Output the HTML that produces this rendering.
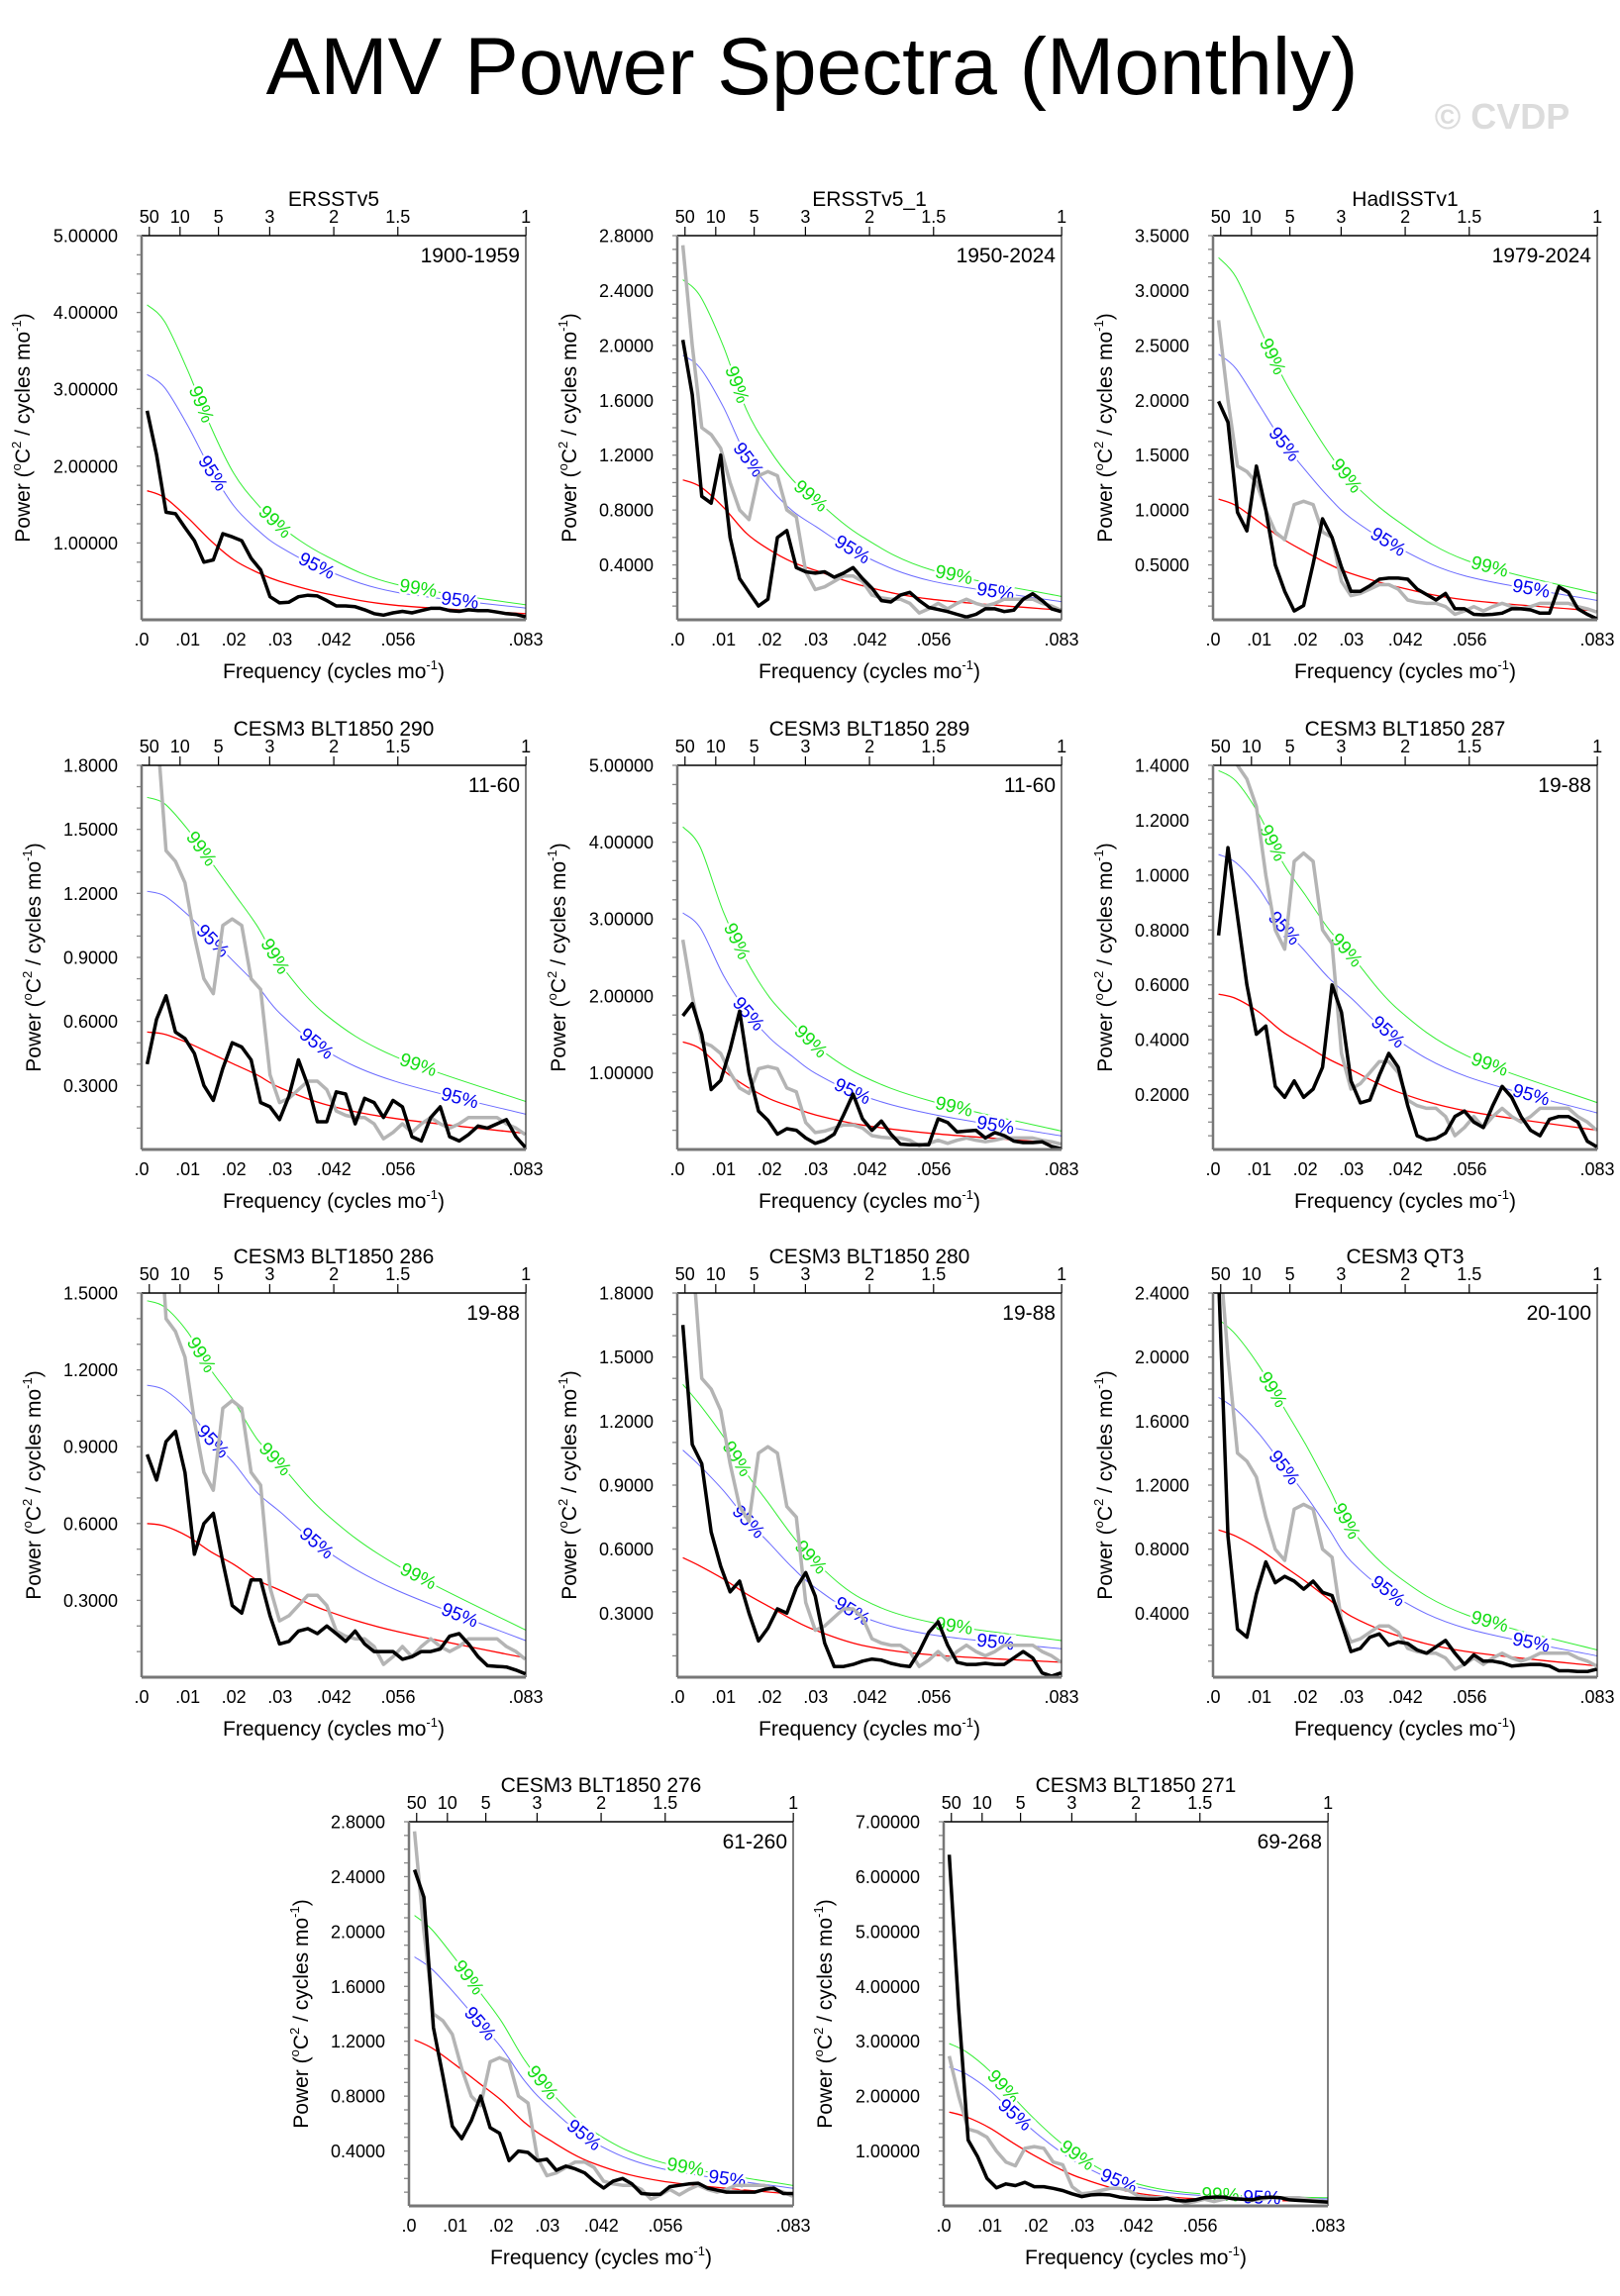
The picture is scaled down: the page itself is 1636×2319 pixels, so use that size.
<!DOCTYPE html>
<html><head><meta charset="utf-8">
<style>
html,body{margin:0;padding:0;background:#fff;}
svg{display:block;font-family:"Liberation Sans",Arial,sans-serif;}
</style></head>
<body>
<svg id="fig" width="1636" height="2319" viewBox="0 0 1636 2319" xmlns="http://www.w3.org/2000/svg">
<text x="820" y="95" font-size="82" text-anchor="middle" fill="#000">AMV Power Spectra (Monthly)</text>
<text x="1517" y="130" font-size="36" font-weight="bold" text-anchor="middle" fill="#dcdcdc">© CVDP</text>
</svg>
<script>
// ---------- data ----------
const FREQ_START = 0.0012;
const FREQ_STEP = 0.00205;
const SMOOTH_F = [0.0012,0.005,0.01,0.015,0.02,0.025,0.03,0.04,0.055,0.0833];
const X_TICK_VALUES = [0,0.01,0.02,0.03,0.0417,0.0556,0.0833];
const X_TICK_LABELS = [".0",".01",".02",".03",".042",".056",".083"];
const PERIOD_LABELS = ["50","10","5","3","2","1.5","1"];
const PERIOD_YEARS = [50,10,5,3,2,1.5,1];

const grayObs = [2.73,2.0,1.4,1.35,1.25,1.0,0.8,0.73,1.05,1.08,1.05,0.8,0.75,0.35,0.22,0.24,0.28,0.32,0.32,0.28,0.18,0.16,0.15,0.15,0.12,0.05,0.08,0.12,0.08,0.12,0.15,0.12,0.1,0.12,0.15,0.15,0.15,0.15,0.12,0.1,0.07];

const black_ersstv5 = [2.72,2.15,1.40,1.38,1.2,1.03,0.75,0.78,1.12,1.08,1.03,0.8,0.65,0.3,0.22,0.23,0.3,0.32,0.31,0.25,0.18,0.18,0.17,0.13,0.08,0.06,0.09,0.11,0.09,0.12,0.15,0.15,0.12,0.11,0.13,0.12,0.12,0.10,0.08,0.07,0.04];
const red_ersstv5 = [1.68,1.59,1.33,1.03,0.78,0.62,0.5,0.34,0.19,0.08];
const black_ersstv5_1 = [2.04,1.64,0.9,0.85,1.2,0.6,0.3,0.2,0.1,0.15,0.6,0.65,0.38,0.35,0.34,0.35,0.31,0.34,0.38,0.3,0.23,0.14,0.13,0.18,0.2,0.14,0.09,0.075,0.06,0.04,0.02,0.04,0.08,0.08,0.06,0.07,0.15,0.19,0.14,0.08,0.06];
const red_ersstv5_1 = [1.02,0.97,0.82,0.63,0.51,0.42,0.36,0.25,0.15,0.07];
const black_hadisst = [1.99,1.8,0.98,0.81,1.4,1.0,0.5,0.26,0.08,0.13,0.51,0.92,0.75,0.48,0.26,0.26,0.31,0.37,0.38,0.38,0.37,0.28,0.23,0.18,0.24,0.1,0.1,0.05,0.045,0.05,0.06,0.1,0.1,0.09,0.06,0.06,0.3,0.25,0.1,0.05,0.01];
const red_hadisst = [1.10,1.04,0.89,0.74,0.62,0.51,0.42,0.30,0.18,0.08];
const black_290 = [0.4,0.61,0.72,0.55,0.52,0.45,0.3,0.23,0.38,0.5,0.48,0.42,0.22,0.2,0.14,0.25,0.42,0.3,0.13,0.13,0.27,0.26,0.12,0.24,0.22,0.15,0.23,0.2,0.06,0.04,0.15,0.2,0.06,0.04,0.07,0.11,0.1,0.12,0.14,0.06,0.01];
const red_290 = [0.55,0.54,0.50,0.45,0.40,0.35,0.29,0.21,0.145,0.075];
const black_289 = [1.74,1.9,1.5,0.78,0.9,1.3,1.8,1.0,0.5,0.38,0.2,0.27,0.25,0.15,0.08,0.12,0.2,0.45,0.72,0.4,0.25,0.37,0.2,0.07,0.06,0.06,0.06,0.4,0.35,0.23,0.24,0.25,0.15,0.22,0.18,0.11,0.09,0.09,0.1,0.04,0.01];
const red_289 = [1.40,1.31,1.03,0.82,0.66,0.55,0.45,0.32,0.21,0.08];
const black_287 = [0.78,1.1,0.85,0.6,0.42,0.45,0.23,0.19,0.25,0.19,0.22,0.3,0.6,0.5,0.25,0.17,0.18,0.27,0.35,0.3,0.16,0.05,0.035,0.04,0.06,0.12,0.14,0.1,0.08,0.16,0.23,0.19,0.12,0.07,0.05,0.11,0.12,0.12,0.1,0.03,0.01];
const red_287 = [0.566,0.55,0.50,0.43,0.38,0.33,0.29,0.21,0.14,0.07];
const black_286 = [0.87,0.77,0.92,0.96,0.8,0.48,0.6,0.64,0.45,0.28,0.25,0.38,0.38,0.24,0.13,0.14,0.18,0.19,0.17,0.2,0.17,0.14,0.18,0.13,0.1,0.1,0.1,0.07,0.08,0.1,0.1,0.11,0.16,0.17,0.13,0.08,0.045,0.042,0.04,0.028,0.013];
const red_286 = [0.60,0.59,0.55,0.49,0.44,0.38,0.34,0.26,0.18,0.075];
const black_280 = [1.65,1.09,1.0,0.68,0.52,0.4,0.45,0.3,0.17,0.23,0.32,0.3,0.42,0.49,0.38,0.16,0.05,0.05,0.06,0.075,0.085,0.08,0.065,0.055,0.05,0.12,0.21,0.26,0.15,0.07,0.06,0.06,0.065,0.06,0.06,0.09,0.12,0.09,0.02,0.005,0.02];
const red_280 = [0.56,0.52,0.46,0.39,0.33,0.27,0.22,0.15,0.105,0.07];
const black_qt3 = [2.5,0.88,0.3,0.25,0.52,0.72,0.59,0.63,0.6,0.55,0.6,0.53,0.51,0.34,0.16,0.18,0.25,0.27,0.2,0.22,0.21,0.17,0.15,0.19,0.23,0.15,0.08,0.14,0.1,0.1,0.09,0.07,0.075,0.08,0.08,0.07,0.04,0.04,0.035,0.035,0.05];
const red_qt3 = [0.92,0.88,0.80,0.70,0.60,0.49,0.38,0.26,0.16,0.07];
const black_276 = [2.45,2.25,1.3,0.95,0.58,0.49,0.62,0.8,0.57,0.53,0.33,0.4,0.39,0.33,0.34,0.26,0.29,0.27,0.24,0.18,0.13,0.18,0.2,0.16,0.09,0.085,0.085,0.14,0.15,0.16,0.165,0.13,0.115,0.1,0.1,0.1,0.1,0.12,0.13,0.09,0.09];
const red_276 = [1.21,1.15,1.03,0.9,0.77,0.61,0.49,0.31,0.18,0.085];
const black_271 = [6.4,3.6,1.2,0.9,0.5,0.33,0.4,0.37,0.43,0.35,0.35,0.32,0.28,0.22,0.17,0.2,0.21,0.2,0.16,0.14,0.13,0.12,0.12,0.14,0.1,0.09,0.11,0.15,0.16,0.16,0.13,0.12,0.11,0.15,0.16,0.15,0.11,0.1,0.09,0.08,0.07];
const red_271 = [1.71,1.62,1.42,1.15,0.9,0.68,0.5,0.26,0.13,0.085];

const ticks5 = ["1.00000","2.00000","3.00000","4.00000","5.00000"];
const ticks28 = ["0.4000","0.8000","1.2000","1.6000","2.0000","2.4000","2.8000"];
const ticks35 = ["0.5000","1.0000","1.5000","2.0000","2.5000","3.0000","3.5000"];
const ticks18 = ["0.3000","0.6000","0.9000","1.2000","1.5000","1.8000"];
const ticks14 = ["0.2000","0.4000","0.6000","0.8000","1.0000","1.2000","1.4000"];
const ticks15 = ["0.3000","0.6000","0.9000","1.2000","1.5000"];
const ticks24 = ["0.4000","0.8000","1.2000","1.6000","2.0000","2.4000"];
const ticks7 = ["1.00000","2.00000","3.00000","4.00000","5.00000","6.00000","7.00000"];

const panels = [
 {id:"ersstv5", title:"ERSSTv5", years:"1900-1959", ymax:5, ticks:ticks5, black:black_ersstv5, red:red_ersstv5, f95:1.9, f99:2.44, gray:false},
 {id:"ersstv5-1", title:"ERSSTv5_1", years:"1950-2024", ymax:2.8, ticks:ticks28, black:black_ersstv5_1, red:red_ersstv5_1, f95:1.89, f99:2.43, gray:true},
 {id:"hadisstv1", title:"HadISSTv1", years:"1979-2024", ymax:3.5, ticks:ticks35, black:black_hadisst, red:red_hadisst, f95:2.2, f99:3.0, gray:true},
 {id:"blt1850-290", title:"CESM3 BLT1850 290", years:"11-60", ymax:1.8, ticks:ticks18, black:black_290, red:red_290, f95:2.2, f99:3.0, gray:true},
 {id:"blt1850-289", title:"CESM3 BLT1850 289", years:"11-60", ymax:5, ticks:ticks5, black:black_289, red:red_289, f95:2.2, f99:3.0, gray:true},
 {id:"blt1850-287", title:"CESM3 BLT1850 287", years:"19-88", ymax:1.4, ticks:ticks14, black:black_287, red:red_287, f95:1.9, f99:2.44, gray:true},
 {id:"blt1850-286", title:"CESM3 BLT1850 286", years:"19-88", ymax:1.5, ticks:ticks15, black:black_286, red:red_286, f95:1.9, f99:2.45, gray:true},
 {id:"blt1850-280", title:"CESM3 BLT1850 280", years:"19-88", ymax:1.8, ticks:ticks18, black:black_280, red:red_280, f95:1.9, f99:2.45, gray:true},
 {id:"qt3", title:"CESM3 QT3", years:"20-100", ymax:2.4, ticks:ticks24, black:black_qt3, red:red_qt3, f95:1.9, f99:2.43, gray:true},
 {id:"blt1850-276", title:"CESM3 BLT1850 276", years:"61-260", ymax:2.8, ticks:ticks28, black:black_276, red:red_276, f95:1.5, f99:1.75, gray:true},
 {id:"blt1850-271", title:"CESM3 BLT1850 271", years:"69-268", ymax:7, ticks:ticks7, black:black_271, red:red_271, f95:1.48, f99:1.73, gray:true}
];
// layout (pixel positions)
const LAYOUT = [[143,238],[684,238],[1225,238],[143,773],[684,773],[1225,773],[143,1306],[684,1306],[1225,1306],[413,1840],[953,1840]];
const W = 388, H = 388, FMAX = 0.0833;

// ---------- drawing ----------
const NS = "http://www.w3.org/2000/svg";
const svg = document.getElementById("fig");
function mk(tag, attrs, parent){
  const e = document.createElementNS(NS, tag);
  for (const k in attrs) e.setAttribute(k, attrs[k]);
  (parent||svg).appendChild(e);
  return e;
}
function smoothPath(pts){
  let d = "M" + pts[0][0].toFixed(1) + "," + pts[0][1].toFixed(1);
  for (let i=0;i<pts.length-1;i++){
    const p0=pts[Math.max(0,i-1)], p1=pts[i], p2=pts[i+1], p3=pts[Math.min(pts.length-1,i+2)];
    const c1=[p1[0]+(p2[0]-p0[0])/6, p1[1]+(p2[1]-p0[1])/6];
    const c2=[p2[0]-(p3[0]-p1[0])/6, p2[1]-(p3[1]-p1[1])/6];
    d += " C"+c1[0].toFixed(1)+","+c1[1].toFixed(1)+" "+c2[0].toFixed(1)+","+c2[1].toFixed(1)+" "+p2[0].toFixed(1)+","+p2[1].toFixed(1);
  }
  return d;
}
function interp(fs, vs, f){
  for (let i=0;i<fs.length-1;i++){
    if (f<=fs[i+1]){ const t=(f-fs[i])/(fs[i+1]-fs[i]); return vs[i]+t*(vs[i+1]-vs[i]); }
  }
  return vs[vs.length-1];
}
function sup(parent, txt){
  const t = mk("tspan", {"font-size":"13", dy:"-9"}, parent); t.textContent = txt;
  const r = mk("tspan", {"font-size":"22", dy:"9"}, parent); r.textContent = "\u200B";
}

panels.forEach((p, idx) => {
  const L = LAYOUT[idx][0], T = LAYOUT[idx][1];
  const xs = f => L + f/FMAX*W;
  const ys = v => T + H - v/p.ymax*H;
  const g = mk("g", {});
  
  
  const clipId = "clip" + idx;
  const cp = mk("clipPath", {id:clipId}, g);
  mk("rect", {x:L, y:T, width:W, height:H}, cp);

  const tt = mk("text", {x:L+W/2, y:T-30, "font-size":"21", "text-anchor":"middle"}, g);
  
  
  tt.textContent = p.title;
  const yr = mk("text", {x:L+W-6, y:T+27, "font-size":"21", "text-anchor":"end"}, g);
  
  
  yr.textContent = p.years;

  PERIOD_YEARS.forEach((P, i) => {
    const x = xs(1/(12*P));
    const tk = mk("line", {x1:x, x2:x, y1:T-9, y2:T, stroke:"#000", "stroke-width":"1.2"}, g);
    
    
    const tl = mk("text", {x:x, y:T-13, "font-size":"18", "text-anchor":"middle"}, g);
    
    
    tl.textContent = PERIOD_LABELS[i];
  });

  const tv = p.ticks.map(Number);
  const step = tv[1]-tv[0];
  const div = (Math.round(step*10)%3===0) ? 3 : 4;
  for (let v=step/div; v<=p.ymax+1e-9; v+=step/div){
    const y = ys(v);
    const m = mk("line", {x1:L-5, x2:L, y1:y, y2:y, stroke:"#888", "stroke-width":"1.3"}, g);
    
    
  }
  p.ticks.forEach((s, i) => {
    const y = ys(tv[i]);
    const t = mk("text", {x:L-24, y:y+6.5, "font-size":"18", "text-anchor":"end"}, g);
    
    
    t.textContent = s;
  });
  X_TICK_VALUES.forEach((f, i) => {
    const t = mk("text", {x:xs(f), y:T+H+26, "font-size":"18", "text-anchor":"middle"}, g);
    
    
    t.textContent = X_TICK_LABELS[i];
  });
  const xt = mk("text", {x:L+W/2, y:T+H+59, "font-size":"21", "text-anchor":"middle"}, g);
  
  
  xt.appendChild(document.createTextNode("Frequency (cycles mo"));
  sup(xt, "-1"); xt.appendChild(document.createTextNode(")"));
  const off = p.ticks[0].length >= 7 ? 113 : 102;
  const yx = L-off, yy = T+H/2;
  const yt = mk("text", {x:yx, y:yy, "font-size":"21", "text-anchor":"middle", transform:"rotate(-90 "+yx+" "+yy+")"}, g);
  
  
  yt.appendChild(document.createTextNode("Power ("));
  sup(yt, "o"); yt.appendChild(document.createTextNode("C")); sup(yt, "2");
  yt.appendChild(document.createTextNode(" / cycles mo")); sup(yt, "-1");
  yt.appendChild(document.createTextNode(")"));

  const series = [
    {name:"red-noise-curve", vals:p.red, col:"#ff0000", w:1.3},
    {name:"confidence-95-curve", vals:p.red.map(v=>v*p.f95), col:"#6a6aff", w:1},
    {name:"confidence-99-curve", vals:p.red.map(v=>v*p.f99), col:"#33ee33", w:1}
  ];
  const cg = mk("g", {"clip-path":"url(#"+clipId+")"}, g);
  series.forEach(s => {
    const pts = SMOOTH_F.map((f,i)=>[xs(f), ys(s.vals[i])]);
    const pa = mk("path", {d:smoothPath(pts), fill:"none", stroke:s.col, "stroke-width":s.w}, cg);
    
    
  });
  const labelSpecs = [
    {vals:series[2].vals, col:"#11dd11", txt:"99%", fs:[0.013,0.029,0.06]},
    {vals:series[1].vals, col:"#0000ee", txt:"95%", fs:[0.0155,0.038,0.069]}
  ];
  labelSpecs.forEach(ls => {
    ls.fs.forEach(f => {
      const x = xs(f), y = ys(interp(SMOOTH_F, ls.vals, f));
      const x2 = xs(f+0.001), y2 = ys(interp(SMOOTH_F, ls.vals, f+0.001));
      const ang = Math.atan2(y2-y, x2-x)*180/Math.PI;
      const t = mk("text", {x:x, y:y+6.5, "font-size":"19", "text-anchor":"middle", fill:ls.col,
        stroke:"#fff", "stroke-width":"5", "paint-order":"stroke", transform:"rotate("+ang.toFixed(1)+" "+x.toFixed(1)+" "+y.toFixed(1)+")"}, cg);
      
      
      t.textContent = ls.txt;
    });
  });
  if (p.gray){
    const pts = grayObs.map((v,i)=>(xs(FREQ_START+i*FREQ_STEP)).toFixed(1)+","+ys(v).toFixed(1)).join(" ");
    const gl = mk("polyline", {points:pts, fill:"none", stroke:"#b4b4b4", "stroke-width":"3.5", "stroke-linejoin":"round"}, cg);
    
    
  }
  const bpts = p.black.map((v,i)=>(xs(FREQ_START+i*FREQ_STEP)).toFixed(1)+","+ys(v).toFixed(1)).join(" ");
  const bl = mk("polyline", {points:bpts, fill:"none", stroke:"#000", "stroke-width":"3.5", "stroke-linejoin":"round"}, cg);
  
  

  const fr = mk("line", {x1:L, x2:L+W, y1:T, y2:T, stroke:"#000", "stroke-width":"1.6"}, g);
   
  const frr = mk("line", {x1:L+W, x2:L+W, y1:T, y2:T+H, stroke:"#000", "stroke-width":"1"}, g);
   
  const fl = mk("line", {x1:L, x2:L, y1:T, y2:T+H, stroke:"#777", "stroke-width":"2.5"}, g);
   
  const fb = mk("line", {x1:L, x2:L+W, y1:T+H, y2:T+H, stroke:"#777", "stroke-width":"3"}, g);
   
});
</script>
</body></html>
